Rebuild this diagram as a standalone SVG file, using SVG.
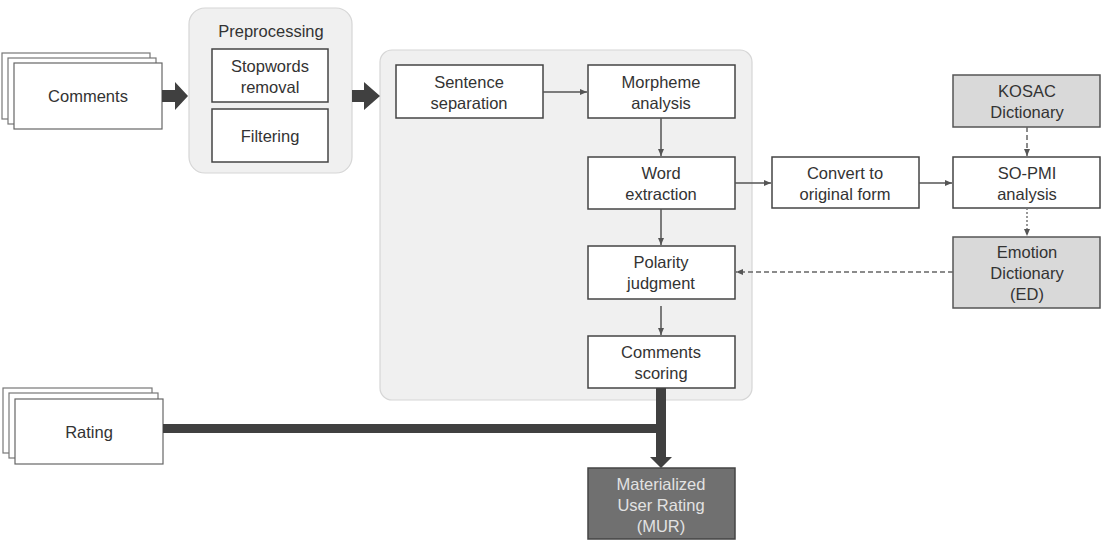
<svg xmlns="http://www.w3.org/2000/svg" width="1119" height="542" viewBox="0 0 1119 542">
<defs>
<style>
.t{font-family:"Liberation Sans",Arial,sans-serif;font-size:16.5px;fill:#333;text-anchor:middle}
.tw{font-family:"Liberation Sans",Arial,sans-serif;font-size:16.5px;fill:#e2e2e2;text-anchor:middle}
.box{fill:#fff;stroke:#444;stroke-width:1.5}
.sheet{fill:#fff;stroke:#777;stroke-width:1.2}
.grey{fill:#d9d9d9;stroke:#555;stroke-width:1.5}
.dark{fill:#707070;stroke:#444;stroke-width:1.5}
.cont{fill:#f0f0f0;stroke:#d6d6d6;stroke-width:1.2}
.ln{fill:none;stroke:#555;stroke-width:1.5}
.dash{fill:none;stroke:#666;stroke-width:1.5;stroke-dasharray:5 3}
.dot{fill:none;stroke:#777;stroke-width:1.5;stroke-dasharray:2 2}
.thick{fill:#404040;stroke:none}
</style>
<marker id="ah" markerWidth="8" markerHeight="8" refX="7" refY="4" orient="auto" markerUnits="userSpaceOnUse">
<path d="M0,1 L7,4 L0,7 Z" fill="#555"/>
</marker>
</defs>

<g id="comments">
<rect class="sheet" x="2" y="53" width="148" height="66"/>
<rect class="sheet" x="8" y="58" width="148" height="66"/>
<rect class="box" x="14" y="63" width="148" height="66" style="stroke:#666;stroke-width:1.2"/>
<text class="t" x="88" y="102">Comments</text>
</g>

<g id="preprocessing">
<rect class="cont" x="189" y="8" width="163" height="165" rx="16"/>
<text class="t" x="271" y="37">Preprocessing</text>
</g>
<g id="stopwords">
<rect class="box" x="212" y="49" width="116" height="53"/>
<text class="t" x="270" y="72">Stopwords</text>
<text class="t" x="270" y="93">removal</text>
</g>
<g id="filtering">
<rect class="box" x="212" y="109" width="116" height="53"/>
<text class="t" x="270" y="142">Filtering</text>
</g>

<g id="main">
<rect class="cont" x="380" y="50" width="372" height="350" rx="12"/>
</g>
<g id="sentence">
<rect class="box" x="396" y="65" width="147" height="53"/>
<text class="t" x="469" y="88">Sentence</text>
<text class="t" x="469" y="109">separation</text>
</g>
<g id="morpheme">
<rect class="box" x="588" y="65" width="147" height="53"/>
<text class="t" x="661" y="88">Morpheme</text>
<text class="t" x="661" y="109">analysis</text>
</g>
<g id="word">
<rect class="box" x="588" y="157" width="147" height="52"/>
<text class="t" x="661" y="179">Word</text>
<text class="t" x="661" y="200">extraction</text>
</g>
<g id="polarity">
<rect class="box" x="588" y="246" width="147" height="53"/>
<text class="t" x="661" y="268">Polarity</text>
<text class="t" x="661" y="289">judgment</text>
</g>
<g id="scoring">
<rect class="box" x="588" y="336" width="147" height="52"/>
<text class="t" x="661" y="358">Comments</text>
<text class="t" x="661" y="379">scoring</text>
</g>

<g id="convert">
<rect class="box" x="772" y="157" width="147" height="51"/>
<text class="t" x="845" y="179">Convert to</text>
<text class="t" x="845" y="200">original form</text>
</g>
<g id="kosac">
<rect class="grey" x="953" y="75" width="147" height="52"/>
<text class="t" x="1027" y="97">KOSAC</text>
<text class="t" x="1027" y="118">Dictionary</text>
</g>
<g id="sopmi">
<rect class="box" x="953" y="157" width="147" height="51"/>
<text class="t" x="1027" y="179">SO-PMI</text>
<text class="t" x="1027" y="200">analysis</text>
</g>
<g id="emotion">
<rect class="grey" x="953" y="237" width="147" height="71"/>
<text class="t" x="1027" y="258">Emotion</text>
<text class="t" x="1027" y="279">Dictionary</text>
<text class="t" x="1027" y="300">(ED)</text>
</g>

<g id="rating">
<rect class="sheet" x="3" y="388" width="149" height="65"/>
<rect class="sheet" x="9" y="393" width="149" height="65"/>
<rect class="box" x="15" y="399" width="148" height="65" style="stroke:#666;stroke-width:1.2"/>
<text class="t" x="89" y="438">Rating</text>
</g>

<g id="mur">
<rect class="dark" x="588" y="468" width="147" height="71"/>
<text class="tw" x="661" y="490">Materialized</text>
<text class="tw" x="661" y="511">User Rating</text>
<text class="tw" x="661" y="532">(MUR)</text>
</g>

<g id="connectors">
<path class="thick" d="M162,90 H175 V82 L188,96 L175,110 V102 H162 Z"/>
<path class="thick" d="M352,90 H364 V82 L380,96 L364,110 V102 H352 Z"/>
<path class="thick" d="M163,424 H656 V388 H666 V457 H672 L661,468 L650,457 H656 V433 H163 Z"/>
<path class="ln" d="M543,92 H587" marker-end="url(#ah)"/>
<path class="ln" d="M661,118 V156" marker-end="url(#ah)"/>
<path class="ln" d="M735,183 H771" marker-end="url(#ah)"/>
<path class="ln" d="M919,183 H952" marker-end="url(#ah)"/>
<path class="ln" d="M661,209 V245" marker-end="url(#ah)"/>
<path class="ln" d="M661,306 V335" marker-end="url(#ah)"/>
<path class="dash" d="M1027,127 V156" marker-end="url(#ah)"/>
<path class="dot" d="M1027,208 V236" marker-end="url(#ah)"/>
<path class="dash" d="M953,272 H736" marker-end="url(#ah)"/>
</g>
</svg>
